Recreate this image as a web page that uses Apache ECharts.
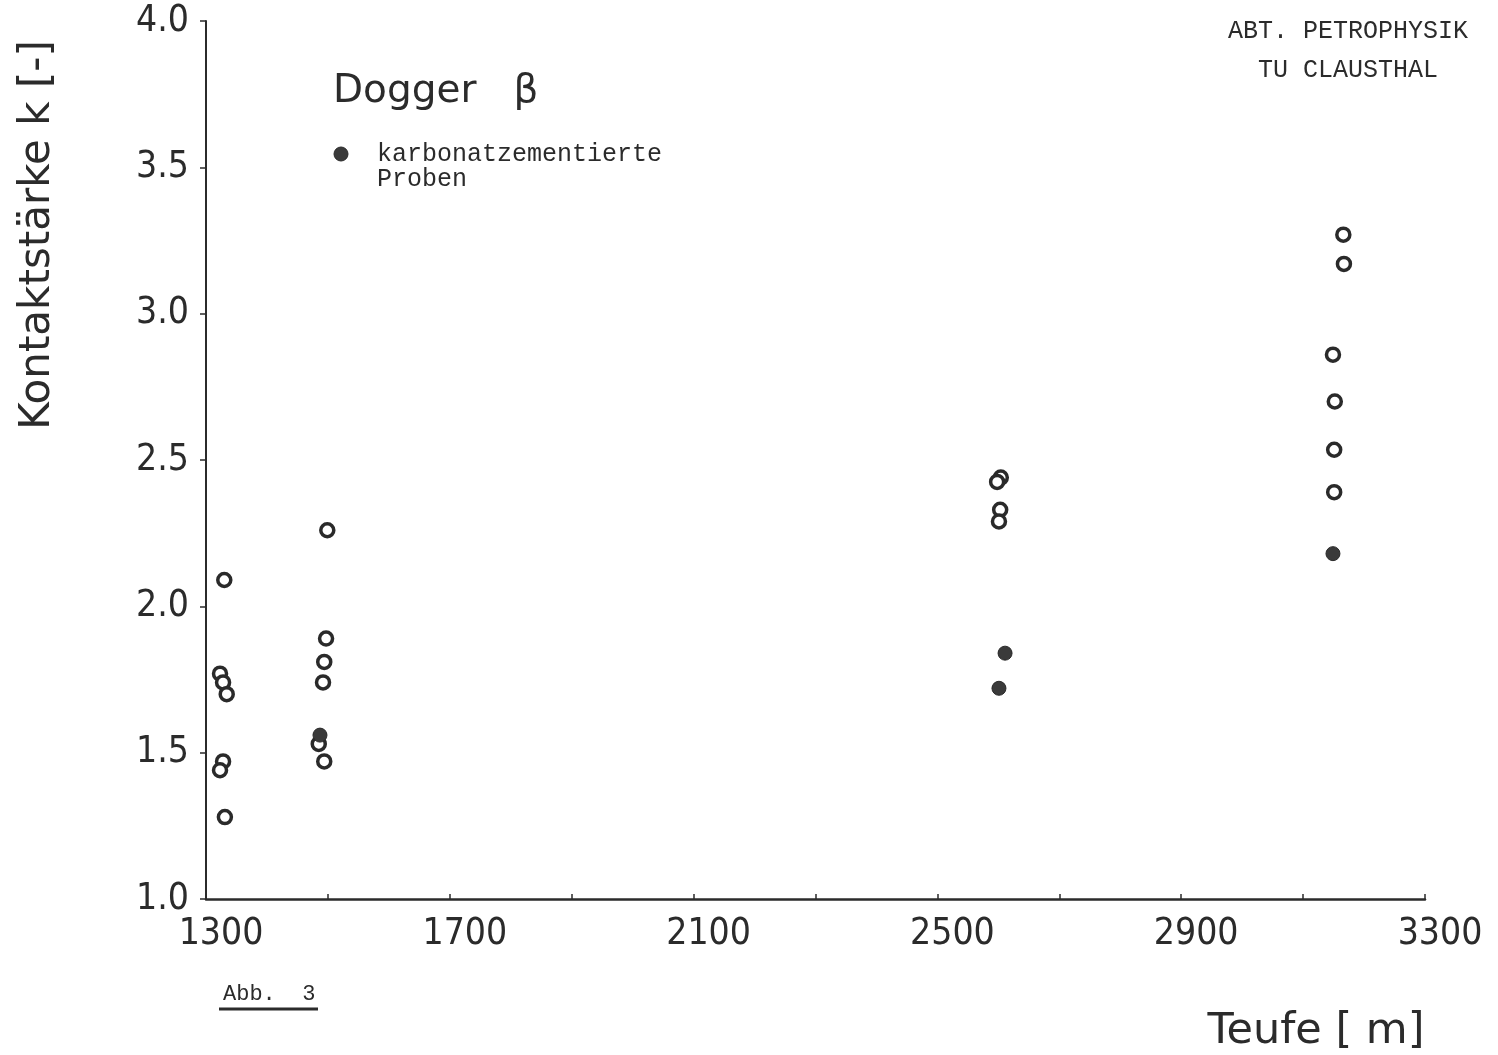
<!DOCTYPE html>
<html>
<head>
<meta charset="utf-8">
<script src="https://cdn.jsdelivr.net/npm/echarts@6/dist/echarts.min.js"></script>
<style>
html,body{margin:0;padding:0;background:#fff;}
#chart{width:1498px;height:1055px;}
</style>
</head>
<body>
<div id="chart"></div>
<script>
// ---- data ----
const openDepth = [1330, 1323, 1328, 1334, 1328, 1323, 1331,
                   1499, 1497, 1494, 1492, 1485, 1494,
                   2604, 2598, 2603, 2601,
                   3166, 3167, 3149, 3152, 3151, 3151];
const openK     = [2.09, 1.77, 1.74, 1.70, 1.47, 1.44, 1.28,
                   2.26, 1.89, 1.81, 1.74, 1.53, 1.47,
                   2.44, 2.425, 2.33, 2.29,
                   3.27, 3.17, 2.86, 2.70, 2.535, 2.39];
const filledDepth = [1487, 2611, 2601, 3149];
const filledK     = [1.56, 1.84, 1.72, 2.18];

const xTickValues  = [1300, 1500, 1700, 1900, 2100, 2300, 2500, 2700, 2900, 3100, 3300];
const xTickLabels  = [1300, 1700, 2100, 2500, 2900, 3300];
const yTickLabels  = ['1.0', '1.5', '2.0', '2.5', '3.0', '3.5', '4.0'];

const titleText   = 'Dogger   β';
const legendText  = 'karbonatzementierte\nProben';
const headerLines = ['ABT. PETROPHYSIK', 'TU CLAUSTHAL'];
const yAxisTitle  = 'Kontaktstärke k [-]';
const xAxisTitle  = 'Teufe [ m]';
const figLabel    = 'Abb.  3';

// ---- build ----
const zip = (a, b) => a.map((v, i) => [v, b[i]]);
const ink = '#2b2b2b';
const narrow = '"Liberation Sans Narrow", "DejaVu Sans Condensed", "Liberation Sans", sans-serif';
const mono = '"Liberation Mono", "DejaVu Sans Mono", monospace';
const sans = '"DejaVu Sans", sans-serif';

const chart = echarts.init(document.getElementById('chart'), null, {renderer: 'canvas'});
chart.setOption({
  backgroundColor: '#ffffff',
  animation: false,
  grid: {left: 206, right: 73, top: 21, bottom: 156, containLabel: false},
  xAxis: {
    type: 'value', min: 1300, max: 3300, interval: 100,
    splitLine: {show: false},
    axisLine: {show: true, onZero: false, lineStyle: {color: ink, width: 2.5}},
    axisTick: {show: true, length: 5, inside: true, customValues: xTickValues, lineStyle: {color: ink, width: 1.5}},
    axisLabel: {
      customValues: xTickLabels,
      color: ink, fontFamily: narrow, fontSize: 37, margin: 17,
      padding: [0, 0, 0, 30],
      formatter: v => String(v)
    }
  },
  yAxis: {
    type: 'value', min: 1, max: 4, interval: 0.5,
    splitLine: {show: false},
    axisLine: {show: true, onZero: false, lineStyle: {color: ink, width: 2}},
    axisTick: {show: true, length: 6, lineStyle: {color: ink, width: 1.5}},
    axisLabel: {
      color: ink, fontFamily: narrow, fontSize: 37, margin: 17,
      formatter: v => yTickLabels[Math.round((v - 1) / 0.5)]
    }
  },
  series: [
    {
      name: 'Proben', type: 'scatter',
      data: zip(openDepth, openK),
      symbol: 'circle', symbolSize: 13,
      itemStyle: {color: '#ffffff', borderColor: '#2a2a2a', borderWidth: 3.5, opacity: 1},
      z: 2
    },
    {
      name: 'karbonatzementierte Proben', type: 'scatter',
      data: zip(filledDepth, filledK),
      symbol: 'circle', symbolSize: 14,
      itemStyle: {color: '#3a3a3a', borderColor: '#2a2a2a', borderWidth: 1, opacity: 1},
      z: 3
    }
  ],
  graphic: [
    {type: 'text', left: 333, top: 72,
     style: {text: titleText, fill: ink, font: '39px ' + sans}},
    {type: 'circle', shape: {cx: 341, cy: 154, r: 7},
     style: {fill: '#3a3a3a', stroke: '#2a2a2a', lineWidth: 1}},
    {type: 'text', x: 377, y: 142,
     style: {text: legendText, fill: ink, font: '25px ' + mono, lineHeight: 25, textAlign: 'left', textVerticalAlign: 'top'}},
    {type: 'text', x: 1348, y: 31,
     style: {text: headerLines[0], fill: ink, font: '25px ' + mono, textAlign: 'center', textVerticalAlign: 'middle'}},
    {type: 'text', x: 1348, y: 70,
     style: {text: headerLines[1], fill: ink, font: '25px ' + mono, textAlign: 'center', textVerticalAlign: 'middle'}},
    {type: 'text', x: 38, y: 235, rotation: Math.PI / 2,
     style: {text: yAxisTitle, fill: ink, font: '42px ' + sans, textAlign: 'center', textVerticalAlign: 'middle'}},
    {type: 'text', x: 1316, y: 1032,
     style: {text: xAxisTitle, fill: ink, font: '43px ' + sans, textAlign: 'center', textVerticalAlign: 'middle'}},
    {type: 'text', x: 223, y: 994,
     style: {text: figLabel, fill: ink, font: '22px ' + mono, textAlign: 'left', textVerticalAlign: 'middle'}},
    {type: 'line', shape: {x1: 219, y1: 1009, x2: 318, y2: 1009},
     style: {stroke: ink, lineWidth: 3}}
  ]
});
</script>
</body>
</html>
